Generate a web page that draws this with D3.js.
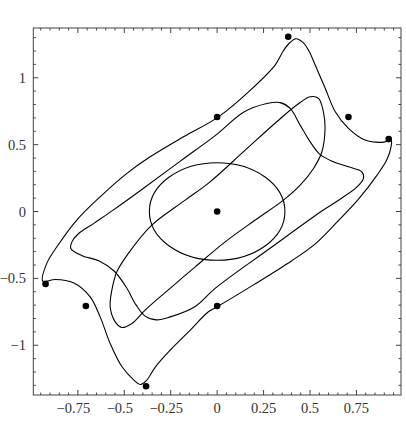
<!DOCTYPE html>
<html>
<head>
<meta charset="utf-8">
<script src="https://cdn.jsdelivr.net/npm/d3@7"></script>
<style>
  body { margin: 0; background: #fff; }
</style>
</head>
<body>
<script>
// tick values
var xMajor = [-0.75, -0.5, -0.25, 0, 0.25, 0.5, 0.75];
var yMajor = [-1, -0.5, 0, 0.5, 1];

// marked points
var dotX = [0, 0, 0, 0.7071, -0.7071, 0.3827, -0.3827, 0.9239, -0.9239];
var dotY = [0, 0.7071, -0.7071, 0.7071, -0.7071, 1.3066, -1.3066, 0.5412, -0.5412];

// inner circle
var circleCenter = [0, 0];
var circleRadius = 0.365;

// tilted ellipse
var curveB = [
  [0.501, 0.858], [0.546, 0.846], [0.572, 0.746], [0.581, 0.622], [0.564, 0.447],
  [0.519, 0.322], [0.447, 0.197], [0.357, 0.085], [0.205, -0.064], [0.043, -0.227],
  [-0.118, -0.414], [-0.244, -0.563], [-0.388, -0.737], [-0.459, -0.837], [-0.513, -0.867],
  [-0.549, -0.825], [-0.576, -0.713], [-0.567, -0.588], [-0.540, -0.451], [-0.478, -0.313],
  [-0.352, -0.102], [-0.172, 0.085], [-0.038, 0.222], [0.142, 0.447], [0.321, 0.671],
  [0.429, 0.796]
];

// wavy square-ish curve
var curveC = [
  [-0.788, -0.276], [-0.782, -0.227], [-0.75, -0.17], [-0.66, -0.085], [-0.56, 0.01],
  [-0.40, 0.17], [-0.2, 0.375], [0, 0.579], [0.142, 0.742], [0.268, 0.807],
  [0.339, 0.814], [0.393, 0.771], [0.447, 0.646], [0.501, 0.521], [0.555, 0.425],
  [0.626, 0.372], [0.707, 0.334], [0.779, 0.297], [0.788, 0.248], [0.75, 0.18],
  [0.66, 0.09], [0.56, 0.0], [0.285, -0.275], [-0.011, -0.575], [-0.118, -0.71],
  [-0.253, -0.788], [-0.328, -0.810], [-0.388, -0.782], [-0.436, -0.700], [-0.490, -0.565],
  [-0.555, -0.445], [-0.635, -0.370], [-0.727, -0.330]
];

// outer curve
var curveD = [
  [0.003, 0.704], [0.169, 0.895], [0.312, 1.095], [0.355, 1.198], [0.388, 1.258],
  [0.425, 1.292], [0.463, 1.262], [0.495, 1.198], [0.528, 1.095], [0.582, 0.921],
  [0.636, 0.746], [0.707, 0.622], [0.797, 0.534], [0.887, 0.517], [0.937, 0.530],
  [0.937, 0.489], [0.915, 0.39], [0.86, 0.27], [0.76, 0.09], [0.645, -0.08],
  [0.53, -0.24], [0.40, -0.37], [0.2, -0.545], [0.002, -0.711], [-0.047, -0.750],
  [-0.145, -0.887], [-0.253, -1.037], [-0.333, -1.163], [-0.380, -1.262], [-0.415, -1.294],
  [-0.447, -1.262], [-0.514, -1.157], [-0.576, -0.987], [-0.630, -0.788], [-0.684, -0.638],
  [-0.774, -0.533], [-0.872, -0.508], [-0.939, -0.521], [-0.917, -0.386], [-0.863, -0.264],
  [-0.756, -0.064], [-0.630, 0.110], [-0.486, 0.285], [-0.361, 0.409], [-0.181, 0.559]
];

var W = 406, H = 436;
var x = d3.scaleLinear().domain([-0.99, 0.99]).range([33.3, 401]);
var y = d3.scaleLinear().domain([-1.372, 1.372]).range([395, 28]);

var svg = d3.select("body").append("svg").attr("width", W).attr("height", H);

svg.append("clipPath").attr("id", "plotclip").append("rect")
  .attr("x", x.range()[0]).attr("y", y.range()[1])
  .attr("width", x.range()[1] - x.range()[0]).attr("height", y.range()[0] - y.range()[1]);

var plot = svg.append("g").attr("clip-path", "url(#plotclip)");

var line = d3.line()
  .x(function (d) { return x(d[0]); })
  .y(function (d) { return y(d[1]); })
  .curve(d3.curveCatmullRomClosed.alpha(0.5));

plot.append("ellipse")
  .attr("cx", x(circleCenter[0])).attr("cy", y(circleCenter[1]))
  .attr("rx", x(circleRadius) - x(0)).attr("ry", y(0) - y(circleRadius))
  .attr("fill", "none").attr("stroke", "#000").attr("stroke-width", 1.1);

[curveB, curveC, curveD].forEach(function (c) {
  plot.append("path").attr("d", line(c))
    .attr("fill", "none").attr("stroke", "#000").attr("stroke-width", 1.1);
});

// frame
var fc = "#444";
svg.append("rect")
  .attr("x", x.range()[0]).attr("y", y.range()[1])
  .attr("width", x.range()[1] - x.range()[0]).attr("height", y.range()[0] - y.range()[1])
  .attr("fill", "none").attr("stroke", fc).attr("stroke-width", 1);

function isMajor(v, step) {
  return Math.abs(v / step - Math.round(v / step)) < 1e-6;
}

// x ticks (bottom + top)
var xMinor = d3.range(-19, 20).map(function (i) { return i * 0.05; });
xMinor.forEach(function (v) {
  var len = isMajor(v, 0.25) ? 5 : 2.5;
  var px = x(v);
  svg.append("line").attr("x1", px).attr("x2", px)
    .attr("y1", y.range()[0]).attr("y2", y.range()[0] - len)
    .attr("stroke", fc).attr("stroke-width", 1);
  svg.append("line").attr("x1", px).attr("x2", px)
    .attr("y1", y.range()[1]).attr("y2", y.range()[1] + len)
    .attr("stroke", fc).attr("stroke-width", 1);
});

// y ticks (left + right)
var yMinor = d3.range(-13, 14).map(function (i) { return i * 0.1; });
yMinor.forEach(function (v) {
  var len = isMajor(v, 0.5) ? 5 : 2.5;
  var py = y(v);
  svg.append("line").attr("y1", py).attr("y2", py)
    .attr("x1", x.range()[0]).attr("x2", x.range()[0] + len)
    .attr("stroke", fc).attr("stroke-width", 1);
  svg.append("line").attr("y1", py).attr("y2", py)
    .attr("x1", x.range()[1]).attr("x2", x.range()[1] - len)
    .attr("stroke", fc).attr("stroke-width", 1);
});

function fmt(v) {
  return (v < 0 ? "\u2212" : "") + String(Math.abs(v));
}

var font = "'Liberation Serif', 'Times New Roman', 'DejaVu Serif', serif";

svg.selectAll("text.xl").data(xMajor).enter().append("text")
  .attr("class", "xl")
  .attr("font-family", font).attr("font-size", 14.5).attr("fill", "#333")
  .attr("x", function (d) { return x(d) - (d < 0 ? 4.5 : 0); })
  .attr("y", 413)
  .attr("text-anchor", "middle")
  .text(fmt);

svg.selectAll("text.yl").data(yMajor).enter().append("text")
  .attr("class", "yl")
  .attr("font-family", font).attr("font-size", 14.5).attr("fill", "#333")
  .attr("x", 26)
  .attr("y", function (d) { return y(d) + 5; })
  .attr("text-anchor", "end")
  .text(fmt);

// dots
svg.selectAll("circle.dot").data(dotX).enter().append("circle")
  .attr("class", "dot")
  .attr("cx", function (d) { return x(d); })
  .attr("cy", function (d, i) { return y(dotY[i]); })
  .attr("r", 3.3)
  .attr("fill", "#000");
</script>
</body>
</html>
